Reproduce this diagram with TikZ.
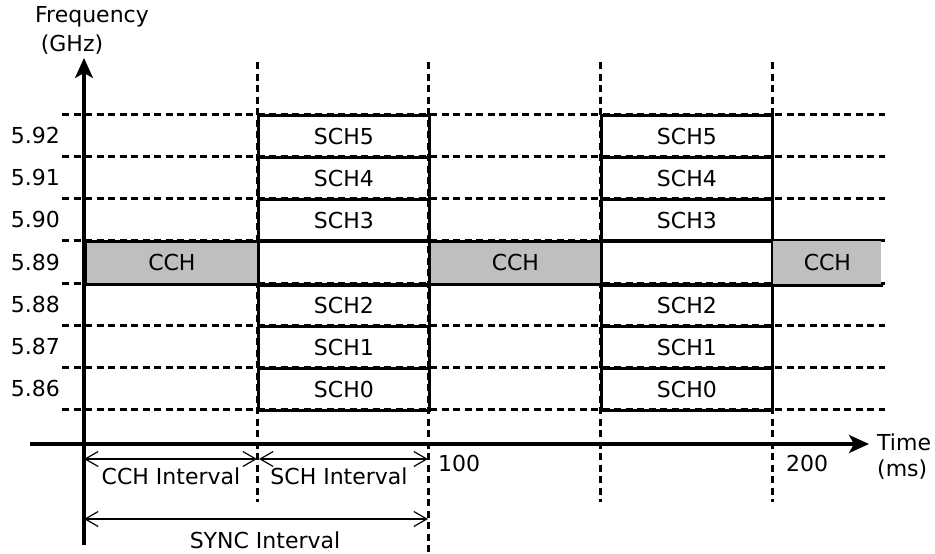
\documentclass[tikz,border=0pt]{standalone}
\usepackage{fontspec}
\setmainfont{DejaVu Sans}
\usetikzlibrary{arrows.meta}
\begin{document}
\begin{tikzpicture}[x=1pt,y=-1pt,
  font=\fontsize{22}{26}\selectfont,
  gridline/.style={line width=3pt, dash pattern=on 7pt off 4.5pt},
  axisline/.style={line width=3.2pt,-{Stealth[length=20pt,width=18pt,inset=5pt]}},
  schbox/.style={draw, line width=2.8pt, minimum width=171pt, minimum height=42pt, inner sep=0pt, anchor=north west},
  cchbox/.style={fill=black!25, line width=2.8pt, minimum height=43pt, inner sep=0pt, anchor=north west},
  span/.style={line width=1.2pt, {Straight Barb[length=13pt,width=15pt]}-{Straight Barb[length=13pt,width=15pt]}},
  lbl/.style={inner sep=0pt}]
\useasboundingbox (0,0) rectangle (935,554);
% horizontal dotted grid
\foreach \yy in {114,156,198,240,283,325,367,409}
  \draw[gridline] (62,\yy) -- (885,\yy);
% vertical dotted grid
\foreach \xx in {257,600,772}
  \draw[gridline] (\xx,62) -- (\xx,502);
\draw[gridline] (428,62) -- (428,554);
% SCH boxes
\foreach \xx in {257,600}{
  \node[schbox] at (\xx,114) {SCH5};
  \node[schbox] at (\xx,156) {SCH4};
  \node[schbox] at (\xx,198) {SCH3};
  \node[schbox] at (\xx,283) {SCH2};
  \node[schbox] at (\xx,325) {SCH1};
  \node[schbox] at (\xx,367) {SCH0};
}
% CCH boxes
\node[cchbox, draw, minimum width=173pt] (c1) at (84,240) {CCH};
\node[cchbox, draw, minimum width=172pt] (c2) at (428,240) {CCH};
\node[cchbox, minimum width=108pt] (c3) at (772,240) {CCH};
\draw[line width=2.8pt] (c1.north east) -- (c2.north west) (c2.north east) -- (c3.north west) -- (c3.north east);
\draw[line width=2.8pt] (c1.south east) -- (c2.south west) (c2.south east) -- (c3.south west) -- (c3.south east);
\draw[line width=2.8pt] (c3.north west) -- (c3.south west);
% axes
\coordinate (yb) at (84,545);
\coordinate (yt) at (84,58);
\coordinate (xl) at (30,444);
\coordinate (xr) at (869,444);
\draw[axisline] (yb) -- (yt);
\draw[axisline] (xl) -- (xr);
% y labels
\foreach \yy/\t in {135/5.92,177/5.91,219/5.90,262/5.89,304/5.88,346/5.87,388/5.86}
  \node[lbl, anchor=east] at (60,\yy) {\t};
\node[lbl] (fq) at (92,17) {Frequency};
\node[lbl] (gh) at (72,45) {(GHz)};
\node[lbl, anchor=west] (tm) at (877,442) {Time};
\node[lbl, anchor=west] (ms) at (877,470) {(ms)};
\node[lbl, anchor=west] (h1) at (438,463) {100};
\node[lbl, anchor=west] (h2) at (786,463) {200};
% intervals
\coordinate (i0) at (84,459);
\coordinate (i1) at (257,459);
\coordinate (i2) at (259,459);
\coordinate (i3) at (428,459);
\coordinate (s0) at (84,519);
\coordinate (s1) at (428,519);
\draw[span] (i0) -- (i1);
\draw[span] (i2) -- (i3);
\draw[span] (s0) -- (s1);
\node[lbl] (ci) at (171,476) {CCH Interval};
\node[lbl] (si) at (339,476) {SCH Interval};
\node[lbl] (sy) at (265,540) {SYNC Interval};
\end{tikzpicture}
\end{document}
